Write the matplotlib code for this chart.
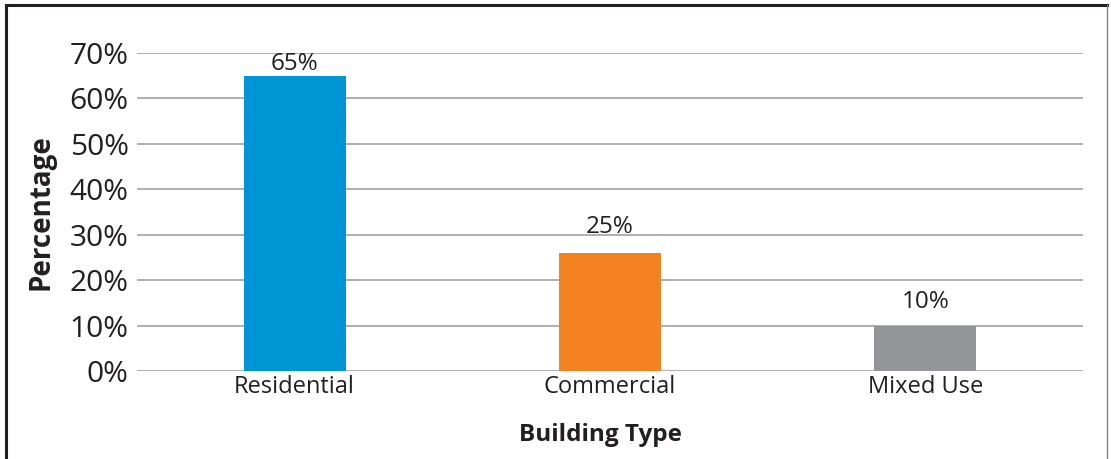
import matplotlib.pyplot as plt
from matplotlib.lines import Line2D

categories = ["Residential", "Commercial", "Mixed Use"]
values = [65, 26, 10]
value_labels = ["65%", "25%", "10%"]
yticks = [0, 10, 20, 30, 40, 50, 60, 70]
colors = ["#0096d6", "#f58220", "#939598"]

plt.rcParams["font.family"] = ["Open Sans", "DejaVu Sans"]

fig = plt.figure(figsize=(11.11, 4.59), dpi=100)
ax = fig.add_axes([0.1233, 0.1917, 0.8515, 0.6928])

x = range(len(categories))
bars = ax.bar(x, values, width=0.324, color=colors, zorder=3)

# label gaps above the bars (pixels), as in the original
pads = [0, 14, 12]
for b, lab, p in zip(bars, value_labels, pads):
    ax.annotate(lab, (b.get_x() + b.get_width() / 2, b.get_height()),
                xytext=(0, p), textcoords="offset pixels",
                ha="center", va="bottom", fontsize=17.5, color="#231f20")

ax.set_xlim(-0.5, 2.5)
ax.set_ylim(0, 70)
ax.set_yticks(yticks)
ax.set_yticklabels([f"{t}%" for t in yticks], fontsize=21.5, color="#231f20")
ax.set_xticks(list(x))
ax.set_xticklabels(categories, fontsize=17, color="#231f20")
ax.tick_params(length=0)
ax.tick_params(axis="y", pad=6)
ax.tick_params(axis="x", pad=3)
ax.grid(axis="y", color="#a7a9ac", linewidth=1.3, zorder=0)
for s in ax.spines.values():
    s.set_visible(False)

ax.set_ylabel("Percentage", fontsize=20, fontweight="bold", color="#231f20")
ax.set_xlabel("Building Type", fontsize=17.5, fontweight="bold", color="#231f20")
ax.yaxis.set_label_coords(-0.086, 0.5)
ax.xaxis.set_label_coords(0.49, -0.165)

# outer frame
W, H = 1111, 459
fig.add_artist(Line2D([6 / W, 6 / W], [0, 1 - 5 / H], color="#231f20", linewidth=2.2))
fig.add_artist(Line2D([6 / W, 1107 / W], [1 - 5 / H, 1 - 5 / H], color="#231f20", linewidth=2.2))
fig.add_artist(Line2D([1107 / W, 1107 / W], [0, 1 - 5 / H], color="#808080", linewidth=1.0))

fig.savefig("out.png", dpi=100)
